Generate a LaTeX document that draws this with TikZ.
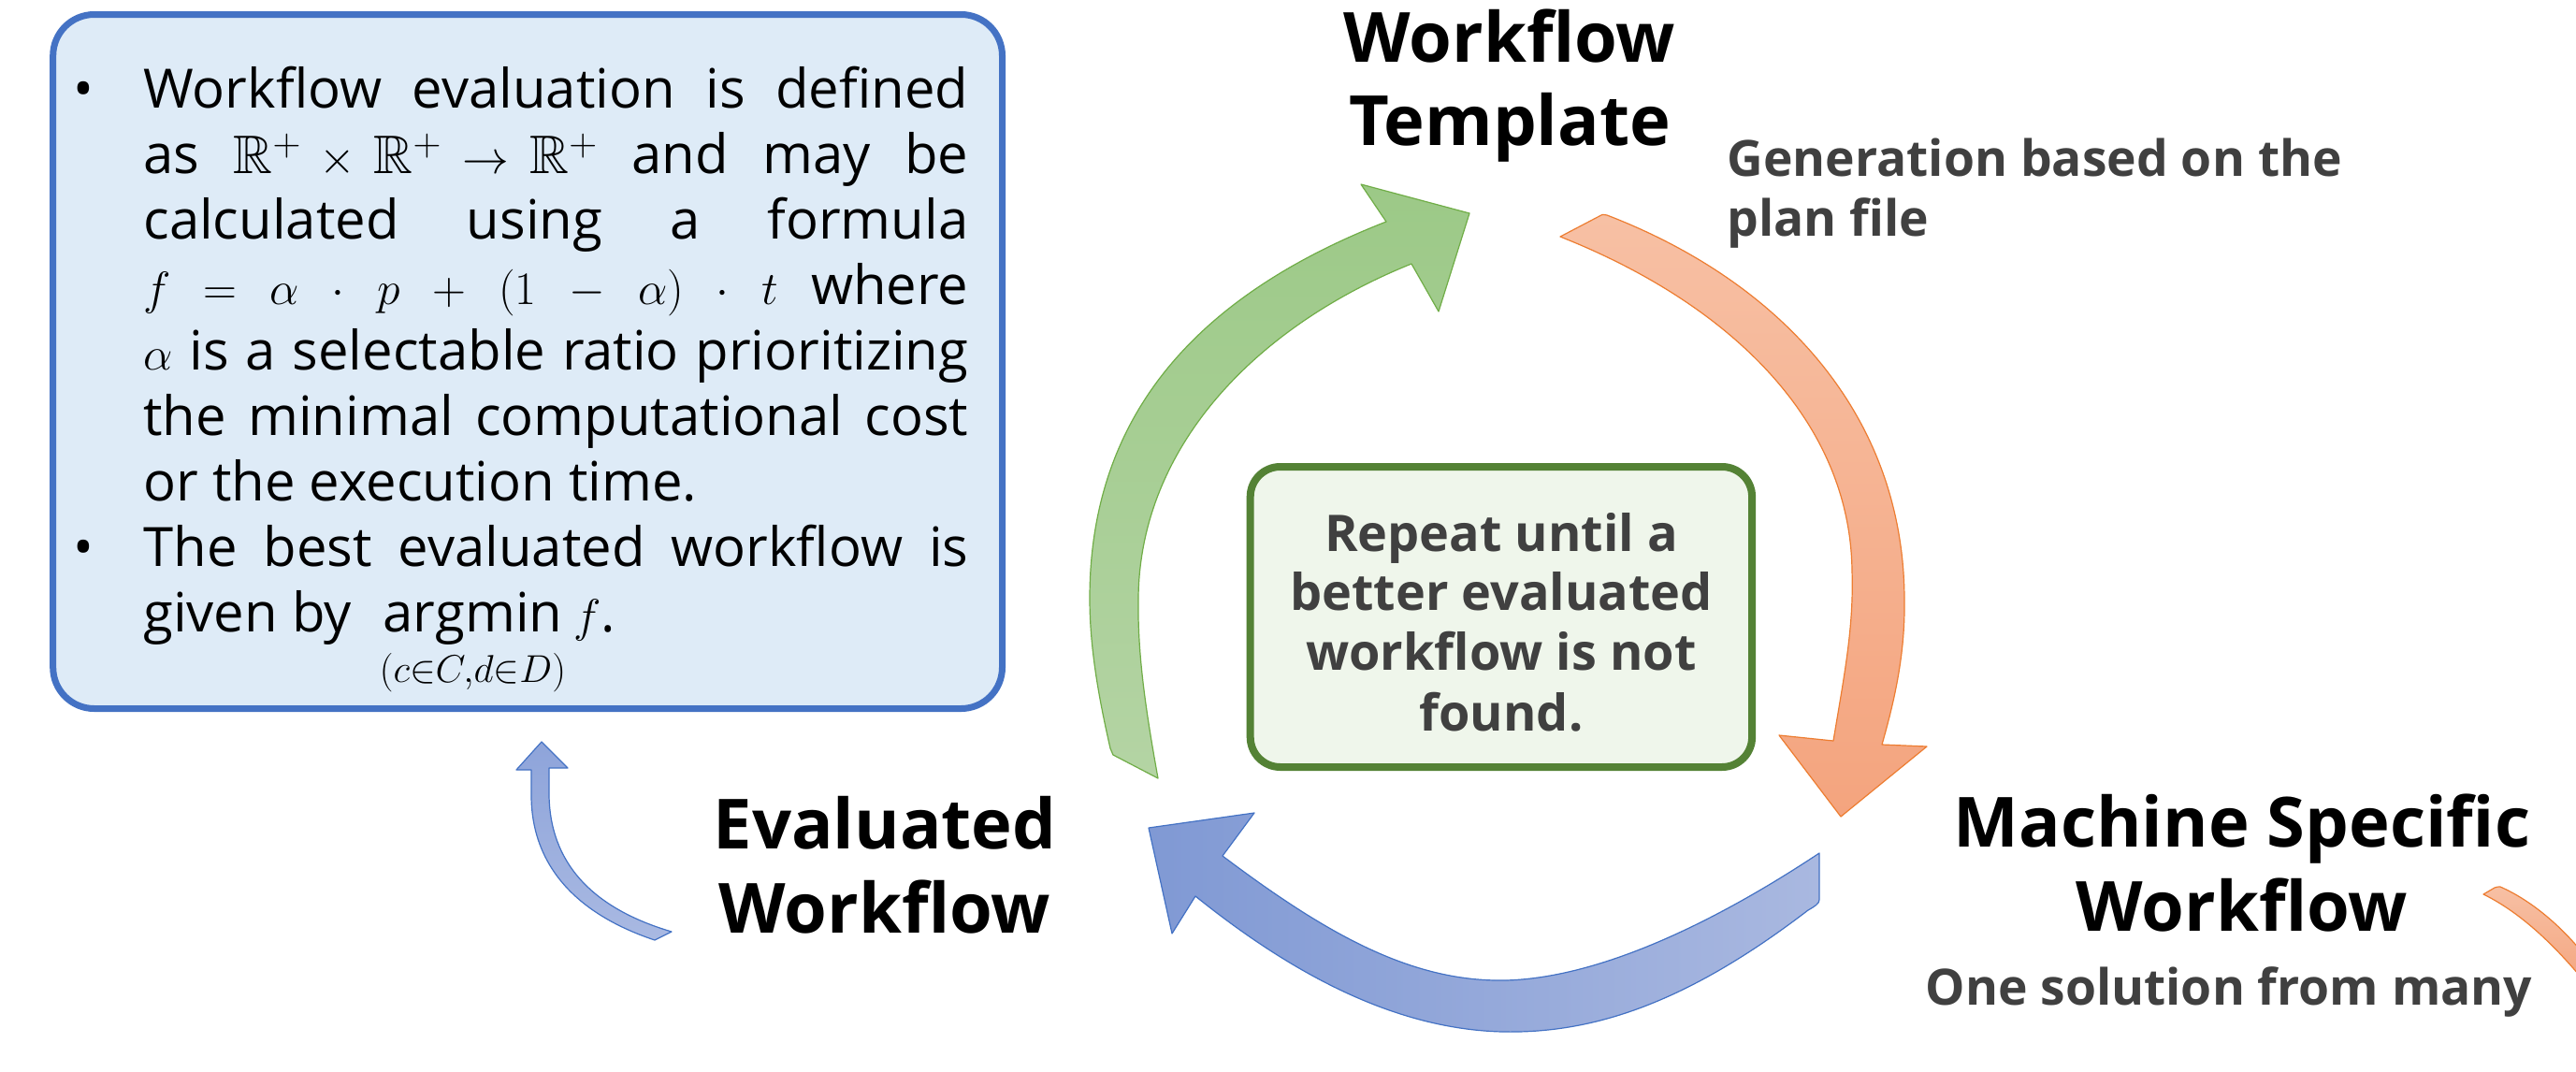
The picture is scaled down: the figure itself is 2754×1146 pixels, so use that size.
\documentclass[tikz,border=0pt]{standalone}
\usepackage{amsmath,amssymb}
\usepackage{fontspec}
\setmainfont{Open Sans}
\definecolor{boxblue}{HTML}{4472C4}
\definecolor{boxbluefill}{HTML}{DEEBF7}
\definecolor{boxgreen}{HTML}{548235}
\definecolor{boxgreenfill}{HTML}{EFF6EB}
\definecolor{textgray}{HTML}{404040}
\definecolor{gtop}{HTML}{9CC987}
\definecolor{gbot}{HTML}{B4D4A4}
\definecolor{gline}{HTML}{70AD47}
\definecolor{otop}{HTML}{F7C0A4}
\definecolor{obot}{HTML}{F4A47E}
\definecolor{oline}{HTML}{ED7D31}
\definecolor{bleft}{HTML}{8099D4}
\definecolor{bright}{HTML}{A9B8E0}
\definecolor{sbtop}{HTML}{8EA4DA}
\definecolor{sbbot}{HTML}{A9B9E2}
\begin{document}
\begin{tikzpicture}[x=0.5pt,y=-0.5pt,
  boxtext/.style={anchor=base west, inner sep=0pt, font=\fontsize{29}{35}\selectfont},
  bul/.style={anchor=base, inner sep=0pt, font=\fontsize{29}{35}\selectfont},
  title/.style={anchor=base, inner sep=0pt, font=\fontsize{37}{44}\selectfont\bfseries},
  note/.style={inner sep=0pt, text=textgray, font=\fontsize{26.7}{31}\selectfont\bfseries},
  repeattext/.style={anchor=base, inner sep=0pt, text=textgray, font=\fontsize{27}{32}\selectfont\bfseries},
  garrow/.style={draw=gline, line width=0.6pt, top color=gtop, bottom color=gbot, line join=round},
  oarrow/.style={draw=oline, line width=0.6pt, top color=otop, bottom color=obot, line join=round},
  barrow/.style={draw=boxblue, line width=0.6pt, left color=bleft, right color=bright, line join=round},
  sbarrow/.style={draw=boxblue, line width=0.6pt, top color=sbtop, bottom color=sbbot, line join=round}
]
\useasboundingbox (0,0) rectangle (2754,1146);
\fill[white] (0,0) rectangle (2754,1146);

% information box
\node[draw=boxblue, fill=boxbluefill, line width=3.5pt, rounded corners=22pt,
      minimum width=507.4pt, minimum height=371pt, inner sep=0pt, outer sep=0pt,
      anchor=north west] (infobox) at (56.7,15.5) {};
\node[bul] (b1) at (89,115) {\textbullet};
\node[bul] (b2) at (89,605) {\textbullet};
\node[boxtext] (l1) at (153,115) {\makebox[441pt][s]{Workflow evaluation is defined}};
\node[boxtext] (l2) at (153,185) {\makebox[441pt][s]{as \mbox{$\mathbb{R}^{+}\,\times\,\mathbb{R}^{+}\,\rightarrow\,\mathbb{R}^{+}$} and may be}};
\node[boxtext] (l3) at (153,255) {\makebox[441pt][s]{calculated using a formula}};
\node[boxtext] (l4) at (153,325) {\makebox[441pt][s]{$f$ $=$ $\alpha$ $\cdot$ $p$ $+$ $(1$ $-$ $\alpha)$ $\cdot$ $t$ where}};
\node[boxtext] (l5) at (153,395) {\makebox[441pt][s]{$\alpha$ is a selectable ratio prioritizing}};
\node[boxtext] (l6) at (153,465) {\makebox[441pt][s]{the minimal computational cost}};
\node[boxtext] (l7) at (153,535) {or the execution time.};
\node[boxtext] (l8) at (153,605) {\makebox[441pt][s]{The best evaluated workflow is}};
\node[boxtext] (l9) at (153,675) {given by\ \ $\mathop{\mathrm{argmin}}\limits_{(c\in C,d\in D)} f$.};

% titles
\node[title] (wt1) at (1614,66) {Workflow};
\node[title] (wt2) at (1614,155) {Template};
\node[note, anchor=base west] (gen1) at (1846,188) {Generation based on the};
\node[note, anchor=base west] (gen2) at (1846,252) {plan file};
\node[title] (ms1) at (2397,905) {Machine Specific};
\node[title] (ms2) at (2397,995) {Workflow};
\node[note, anchor=base] (one) at (2383,1074) {One solution from many};
\node[title] (ev1) at (946,907) {Evaluated};
\node[title] (ev2) at (946,997) {Workflow};

% repeat box
\node[draw=boxgreen, fill=boxgreenfill, line width=4pt, rounded corners=16pt,
      minimum width=268.2pt, minimum height=160.5pt, inner sep=0pt, outer sep=0pt,
      anchor=north west] (repeatbox) at (1336.7,499) {};
\node[repeattext] (r1) at (1605,589) {Repeat until a};
\node[repeattext] (r2) at (1605,652) {better evaluated};
\node[repeattext] (r3) at (1605,716) {workflow is not};
\node[repeattext] (r4) at (1605,781) {found.};

% green arrow (evaluated -> template)
\draw[garrow] (1187,800) -- (1190,807) -- (1238,832)
  .. controls (1225,760) and (1216,700) .. (1217,640)
  .. controls (1218,480) and (1340,350) .. (1509,282)
  -- (1538,333) -- (1571,228) -- (1455,197) -- (1482,237)
  .. controls (1290,312) and (1165,435) .. (1165,640)
  .. controls (1165,700) and (1178,760) .. (1187,800)
  -- cycle;

% orange arrow (template -> machine specific)
\draw[oarrow] (1668,253) -- (1710,231)
  .. controls (1713,229) and (1715,229) .. (1718,230)
  .. controls (1900,300) and (2035,440) .. (2036,640)
  .. controls (2037,700) and (2025,750) .. (2012,796)
  -- (2060,798) -- (1968,873) -- (1902,786) -- (1960,792)
  .. controls (1972,720) and (1982,670) .. (1980,610)
  .. controls (1978,450) and (1850,325) .. (1668,253)
  -- cycle;

% blue arrow (machine specific -> evaluated)
\draw[barrow] (1945,912) -- (1945,962)
  .. controls (1945,966) and (1940,969) .. (1933,973)
  .. controls (1800,1075) and (1700,1105) .. (1606,1103)
  .. controls (1490,1100) and (1380,1040) .. (1278,958)
  -- (1253,998) -- (1228,885) -- (1341,869) -- (1307,915)
  .. controls (1420,1000) and (1510,1050) .. (1610,1048)
  .. controls (1720,1045) and (1850,975) .. (1945,912)
  -- cycle;

% small blue arrow (evaluated -> info box)
\draw[sbarrow] (579,793) -- (607,821) -- (587,821) -- (587,850)
  .. controls (588,920) and (630,970) .. (718,996)
  -- (700,1005)
  .. controls (610,975) and (568,920) .. (568,850)
  -- (568,823) -- (552,823) -- cycle;

% partial orange arrow at right edge
\begin{scope}
\clip (0,0) rectangle (2754,1146);
\draw[oarrow] (2655,956) -- (2667,949)
  .. controls (2669,948) and (2671,948) .. (2673,948)
  .. controls (2705,962) and (2740,990) .. (2770,1030)
  -- (2770,1058)
  .. controls (2740,1020) and (2700,978) .. (2655,956)
  -- cycle;
\end{scope}
\end{tikzpicture}
\end{document}
